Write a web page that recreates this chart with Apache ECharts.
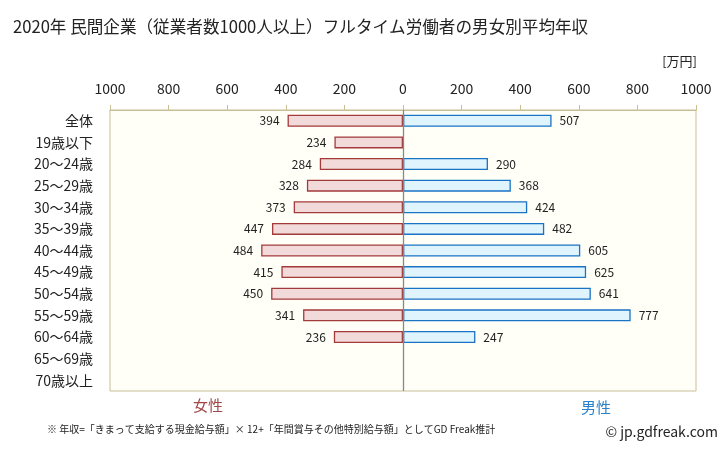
<!DOCTYPE html>
<html><head><meta charset="utf-8">
<script src="https://cdn.jsdelivr.net/npm/echarts@6/dist/echarts.min.js"></script>
<style>html,body{margin:0;padding:0;background:#fff}#c{width:728px;height:451px}</style>
</head><body><div id="c"></div>
<script>
const categories = ['全体','19歳以下','20～24歳','25～29歳','30～34歳','35～39歳','40～44歳','45～49歳','50～54歳','55～59歳','60～64歳','65～69歳','70歳以上'];
const femaleValues = [394, 234, 284, 328, 373, 447, 484, 415, 450, 341, 236, null, null];
const maleValues = [507, null, 290, 368, 424, 482, 605, 625, 641, 777, 247, null, null];
const axisTicks = [-1000, -800, -600, -400, -200, 0, 200, 400, 600, 800, 1000];

const FONT = '"Noto Sans CJK JP", "Noto Sans", sans-serif';
const chart = echarts.init(document.getElementById('c'), null, {renderer: 'canvas'});
chart.setOption({
  animation: false,
  backgroundColor: '#ffffff',
  title: {
    text: '2020年 民間企業（従業者数1000人以上）フルタイム労働者の男女別平均年収',
    left: 8, top: 13,
    textStyle: {fontSize: 16.6, fontWeight: 'normal', color: '#222', fontFamily: FONT}
  },
  grid: {
    left: 110, right: 32, top: 110, bottom: 60,
    show: true, backgroundColor: '#fffff8', borderColor: '#c8bf96', borderWidth: 1
  },
  xAxis: {
    type: 'value', position: 'top',
    min: axisTicks[0], max: axisTicks[axisTicks.length - 1], interval: 200,
    axisLine: {show: true, lineStyle: {color: '#c8bf96'}},
    axisTick: {show: true, length: 5, lineStyle: {color: '#c8bf96'}},
    splitLine: {show: false},
    axisLabel: {margin: 14, fontSize: 14, color: '#222', fontFamily: FONT, formatter: v => String(Math.abs(v))}
  },
  yAxis: {
    type: 'category', data: categories, inverse: true,
    axisLine: {show: false}, axisTick: {show: false},
    axisLabel: {margin: 17, fontSize: 14, color: '#222', fontFamily: FONT}
  },
  series: [
    {
      name: '女性', type: 'bar', stack: 'a', barWidth: 12,
      data: femaleValues.map(v => v == null ? null : -v),
      itemStyle: {color: '#f2dada', borderColor: '#a33a3a', borderWidth: 1.3},
      label: {show: true, position: 'left', distance: 8, fontSize: 12, color: '#222', fontFamily: FONT,
              formatter: p => p.value == null ? '' : String(Math.abs(p.value))},
      markLine: {
        silent: true, symbol: 'none', label: {show: false},
        lineStyle: {color: '#888', width: 1.3, type: 'solid'},
        data: [{xAxis: 0}]
      }
    },
    {
      name: '男性', type: 'bar', stack: 'a', barWidth: 12,
      data: maleValues,
      itemStyle: {color: '#dff4fd', borderColor: '#1a73c4', borderWidth: 1.3},
      label: {show: true, position: 'right', distance: 8, fontSize: 12, color: '#222', fontFamily: FONT,
              formatter: p => p.value == null ? '' : String(p.value)}
    }
  ],
  graphic: [
    {type: 'text', right: 31, top: 55, style: {text: '[万円]', fontSize: 13, fill: '#222', fontFamily: FONT}},
    {type: 'text', left: 193, top: 398, style: {text: '女性', fontSize: 15, fill: '#a04848', fontFamily: FONT}},
    {type: 'text', left: 581, top: 400, style: {text: '男性', fontSize: 15, fill: '#2a82cc', fontFamily: FONT}},
    {type: 'text', left: 47, top: 424, style: {text: '※ 年収=「きまって支給する現金給与額」× 12+「年間賞与その他特別給与額」としてGD Freak推計', fontSize: 10, fill: '#222', fontFamily: FONT}},
    {type: 'text', right: 10, top: 425, style: {text: '© jp.gdfreak.com', fontSize: 14, fill: '#222', fontFamily: FONT}}
  ]
});
</script></body></html>
